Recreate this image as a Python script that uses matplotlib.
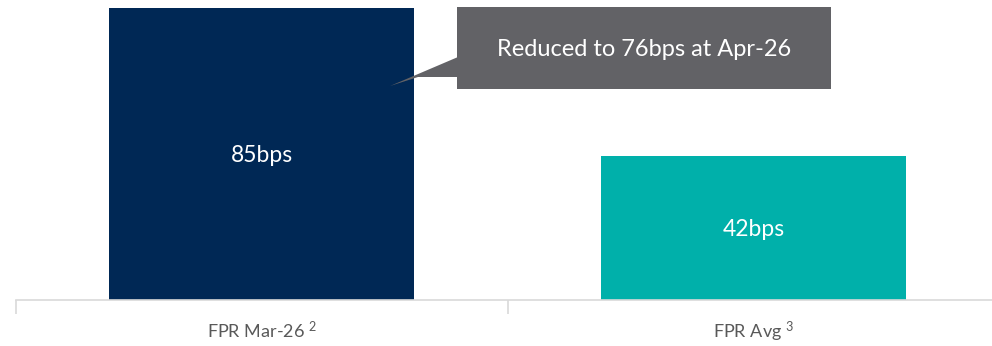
import matplotlib.pyplot as plt
from matplotlib.patches import Rectangle, Polygon

plt.rcParams['font.family'] = ['Lato', 'DejaVu Sans']
plt.rcParams['mathtext.default'] = 'regular'

# values
categories = ['FPR Mar-26', 'FPR Avg']
notes = ['2', '3']
values = [85, 42]
bar_colors = ['#002855', '#00b0aa']
callout_text = 'Reduced to 76bps at Apr-26'

fig = plt.figure(figsize=(9.92, 3.46), dpi=100)
# axes placed so the plot area runs from x=15.5 to 999.5 px, y=8 to 300 px
ax = fig.add_axes([15.5 / 992, 46 / 346, 984 / 992, 292 / 346])

xs = range(len(categories))
ax.bar(xs, values, width=0.62, color=bar_colors, zorder=2)
for x, v in zip(xs, values):
    ax.text(x, v / 2, f'{v}bps', color='white', fontsize=16.5,
            ha='center', va='center_baseline')

ax.set_xlim(-0.5, 1.5)
ax.set_ylim(0, 85)
ax.set_yticks([])
for s in ['top', 'right', 'left']:
    ax.spines[s].set_visible(False)
ax.spines['bottom'].set_color('#d9d9d9')
ax.spines['bottom'].set_linewidth(1.2)

# category labels with footnote markers, boundary ticks
ax.set_xticks(list(xs))
ax.set_xticklabels([f'{c} $^{{{n}}}$' for c, n in zip(categories, notes)])
ax.tick_params(axis='x', which='major', length=0, pad=14,
               labelsize=13, labelcolor='#595959')
ax.set_xticks([-0.5, 0.5, 1.5], minor=True)
ax.tick_params(axis='x', which='minor', length=10, width=1.2, color='#d9d9d9')

# callout box with pointer toward the first bar
def px(x):
    return (x - 15.5) / 492 - 0.5

def py(y):
    return (300 - y) / 292 * 85

box_color = '#626266'
ax.add_patch(Rectangle((px(457), py(89)), px(831) - px(457), py(7) - py(89),
                       facecolor=box_color, edgecolor='none', clip_on=False, zorder=3))
ax.add_patch(Polygon([(px(458), py(57)), (px(390), py(86)), (px(418), py(77)), (px(458), py(77))],
                     closed=True, facecolor=box_color, edgecolor='none', clip_on=False, zorder=3))
ax.text((px(457) + px(831)) / 2, py(48), callout_text, color='white', fontsize=17,
        ha='center', va='center_baseline', zorder=4)

fig.savefig('out.png', dpi=100)
